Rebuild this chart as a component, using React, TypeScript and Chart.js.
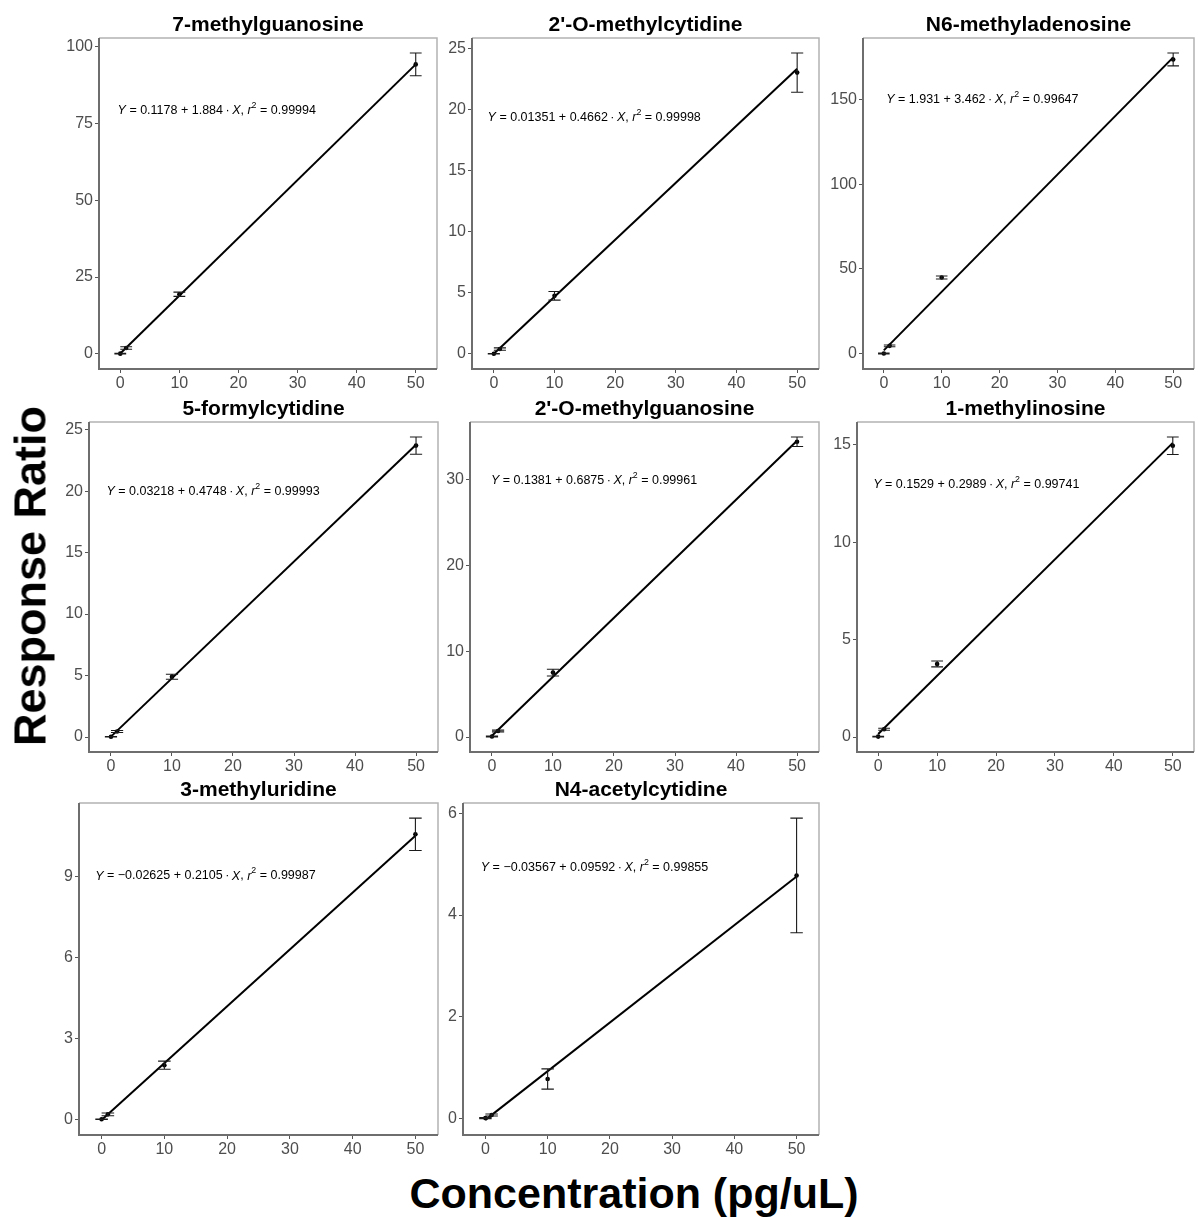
import React, { useEffect, useRef } from "react";
import { Chart, registerables } from "chart.js";

Chart.register(...registerables);

// ---------------- data ----------------
const compounds = [
  "7-methylguanosine",
  "2'-O-methylcytidine",
  "N6-methyladenosine",
  "5-formylcytidine",
  "2'-O-methylguanosine",
  "1-methylinosine",
  "3-methyluridine",
  "N4-acetylcytidine",
];

const concentrations = [0, 1, 10, 50];
const xTicks = [0, 10, 20, 30, 40, 50];

const mean_m7G = [0.05, 1.9, 19.4, 94.3];
const sd_m7G = [0.1, 0.4, 0.7, 3.7];
const mean_Cm = [0.02, 0.4, 4.75, 23.0];
const sd_Cm = [0.02, 0.1, 0.35, 1.6];
const mean_m6A = [0.1, 4.6, 45.0, 173.8];
const sd_m6A = [0.3, 0.5, 0.9, 3.8];
const mean_f5C = [0.02, 0.45, 4.9, 23.7];
const sd_f5C = [0.02, 0.08, 0.2, 0.7];
const mean_Gm = [0.05, 0.7, 7.5, 34.4];
const sd_Gm = [0.05, 0.1, 0.4, 0.55];
const mean_m1I = [0.02, 0.4, 3.75, 14.95];
const sd_m1I = [0.02, 0.05, 0.15, 0.45];
const mean_m3U = [0.0, 0.18, 2.0, 10.55];
const sd_m3U = [0.01, 0.05, 0.15, 0.6];
const mean_ac4C = [0.0, 0.06, 0.77, 4.78];
const sd_ac4C = [0.01, 0.02, 0.2, 1.13];

const intercepts = [0.1178, 0.01351, 1.931, 0.03218, 0.1381, 0.1529, -0.02625, -0.03567];
const slopes = [1.884, 0.4662, 3.462, 0.4748, 0.6875, 0.2989, 0.2105, 0.09592];
const r2Values = ["0.99994", "0.99998", "0.99647", "0.99993", "0.99961", "0.99741", "0.99987", "0.99855"];

const yTicks_m7G = [0, 25, 50, 75, 100];
const yTicks_Cm = [0, 5, 10, 15, 20, 25];
const yTicks_m6A = [0, 50, 100, 150];
const yTicks_f5C = [0, 5, 10, 15, 20, 25];
const yTicks_Gm = [0, 10, 20, 30];
const yTicks_m1I = [0, 5, 10, 15];
const yTicks_m3U = [0, 3, 6, 9];
const yTicks_ac4C = [0, 2, 4, 6];

const means = [mean_m7G, mean_Cm, mean_m6A, mean_f5C, mean_Gm, mean_m1I, mean_m3U, mean_ac4C];
const sds = [sd_m7G, sd_Cm, sd_m6A, sd_f5C, sd_Gm, sd_m1I, sd_m3U, sd_ac4C];
const yTicks = [yTicks_m7G, yTicks_Cm, yTicks_m6A, yTicks_f5C, yTicks_Gm, yTicks_m1I, yTicks_m3U, yTicks_ac4C];

// ---------------- layout (pixels) ----------------
const panels = [
  { left: 99, top: 38, right: 439, bottom: 369, eqX: 0.055, eqY: 0.218 },
  { left: 472, top: 38, right: 821, bottom: 369, eqX: 0.045, eqY: 0.239 },
  { left: 863, top: 38, right: 1196, bottom: 369, eqX: 0.07, eqY: 0.187 },
  { left: 89, top: 422, right: 440, bottom: 752, eqX: 0.05, eqY: 0.212 },
  { left: 470, top: 422, right: 821, bottom: 752, eqX: 0.06, eqY: 0.176 },
  { left: 857, top: 422, right: 1196, bottom: 752, eqX: 0.048, eqY: 0.19 },
  { left: 79, top: 803, right: 440, bottom: 1135, eqX: 0.045, eqY: 0.22 },
  { left: 463, top: 803, right: 821, bottom: 1135, eqX: 0.05, eqY: 0.193 },
];

const FONT = "'Liberation Sans', Arial, sans-serif";
const Y_AXIS_W = 70;
const X_AXIS_H = 30;
const TOP_PAD = 40;
const CAP_HALF = 1; // error bar half width in x units

function fmt(v: number) {
  return String(Math.abs(v));
}

function Panel({ idx }: { idx: number }) {
  const ref = useRef<HTMLCanvasElement | null>(null);
  const p = panels[idx];
  const w = p.right - p.left + Y_AXIS_W + 2;
  const h = p.bottom - p.top + TOP_PAD + X_AXIS_H;

  useEffect(() => {
    const canvas = ref.current;
    if (!canvas) return;
    const m = means[idx];
    const s = sds[idx];
    const a = intercepts[idx];
    const b = slopes[idx];
    const lineStart = a + b * concentrations[0];
    const lineEnd = a + b * concentrations[concentrations.length - 1];
    const lows = m.map((v, i) => v - s[i]).concat([lineStart, lineEnd]);
    const highs = m.map((v, i) => v + s[i]).concat([lineStart, lineEnd]);
    const lo = Math.min(...lows);
    const hi = Math.max(...highs);
    const yr = hi - lo;
    const xlo = concentrations[0] - CAP_HALF;
    const xhi = concentrations[concentrations.length - 1] + CAP_HALF;
    const xr = xhi - xlo;

    const plugin = {
      id: "decor" + idx,
      afterDatasetsDraw(chart: any) {
        const ctx = chart.ctx;
        const xs = chart.scales.x;
        const ys = chart.scales.y;
        const ca = chart.chartArea;
        ctx.save();
        // error bars
        ctx.strokeStyle = "#1a1a1a";
        ctx.lineWidth = 1.1;
        concentrations.forEach((c, i) => {
          const x = xs.getPixelForValue(c);
          const x0 = xs.getPixelForValue(c - CAP_HALF);
          const x1 = xs.getPixelForValue(c + CAP_HALF);
          const yt = ys.getPixelForValue(m[i] + s[i]);
          const yb = ys.getPixelForValue(m[i] - s[i]);
          ctx.beginPath();
          ctx.moveTo(x, yt);
          ctx.lineTo(x, yb);
          ctx.moveTo(x0, yt);
          ctx.lineTo(x1, yt);
          ctx.moveTo(x0, yb);
          ctx.lineTo(x1, yb);
          ctx.stroke();
        });
        // panel border
        ctx.strokeStyle = "#b3b3b3";
        ctx.lineWidth = 1.5;
        ctx.beginPath();
        ctx.moveTo(ca.left, ca.top);
        ctx.lineTo(ca.right, ca.top);
        ctx.lineTo(ca.right, ca.bottom);
        ctx.stroke();
        ctx.strokeStyle = "#6e6e6e";
        ctx.lineWidth = 2;
        ctx.beginPath();
        ctx.moveTo(ca.left, ca.top);
        ctx.lineTo(ca.left, ca.bottom);
        ctx.lineTo(ca.right, ca.bottom);
        ctx.stroke();
        // title
        ctx.fillStyle = "#000";
        ctx.font = "bold 21px " + FONT;
        ctx.textAlign = "center";
        ctx.textBaseline = "alphabetic";
        ctx.fillText(compounds[idx], (ca.left + ca.right) / 2, ca.top - 7);
        // equation
        const fs = 12.5;
        const ex = ca.left + p.eqX * (ca.right - ca.left);
        const ey = ca.top + p.eqY * (ca.bottom - ca.top);
        const sign = a < 0 ? "\u2212" : "";
        const parts: [string, string][] = [
          ["Y", "italic"],
          [" = " + sign + fmt(a) + " + " + fmt(b) + "\u2009\u00b7\u2009", "normal"],
          ["X", "italic"],
          [", ", "normal"],
          ["r", "italic"],
          ["2", "sup"],
          [" = " + r2Values[idx], "normal"],
        ];
        ctx.textAlign = "left";
        ctx.textBaseline = "middle";
        let cx = ex;
        parts.forEach(([t, st]) => {
          if (st === "sup") {
            ctx.font = (fs * 0.7).toFixed(1) + "px " + FONT;
            ctx.fillText(t, cx, ey - 5);
          } else {
            ctx.font = (st === "italic" ? "italic " : "") + fs + "px " + FONT;
            ctx.fillText(t, cx, ey);
          }
          cx += ctx.measureText(t).width;
        });
        ctx.restore();
      },
    };

    const tickFont = { family: FONT, size: 16 };
    const chart = new Chart(canvas, {
      type: "scatter",
      data: {
        datasets: [
          {
            data: [
              { x: concentrations[0], y: lineStart },
              { x: concentrations[concentrations.length - 1], y: lineEnd },
            ],
            showLine: true,
            borderColor: "#000",
            borderWidth: 2,
            pointRadius: 0,
          },
          {
            data: concentrations.map((c, i) => ({ x: c, y: m[i] })),
            pointRadius: 2.3,
            backgroundColor: "#000",
            borderColor: "#000",
            borderWidth: 0,
          },
        ],
      },
      options: {
        responsive: false,
        animation: false,
        events: [],
        layout: { padding: { left: 0, top: TOP_PAD, right: 2, bottom: 0 } },
        plugins: { legend: { display: false }, tooltip: { enabled: false }, title: { display: false } },
        scales: {
          x: {
            type: "linear",
            min: xlo - 0.05 * xr,
            max: xhi + 0.05 * xr,
            afterBuildTicks: (sc: any) => {
              sc.ticks = xTicks.map((v) => ({ value: v }));
            },
            afterFit: (sc: any) => {
              sc.height = X_AXIS_H;
            },
            grid: { display: true, drawOnChartArea: false, drawTicks: true, tickLength: 4, color: "#555", lineWidth: 1 },
            border: { display: false },
            ticks: { font: tickFont, color: "#4d4d4d", padding: 1, maxRotation: 0, autoSkip: false },
          },
          y: {
            type: "linear",
            min: lo - 0.05 * yr,
            max: hi + 0.05 * yr,
            afterBuildTicks: (sc: any) => {
              sc.ticks = yTicks[idx].map((v) => ({ value: v }));
            },
            afterFit: (sc: any) => {
              sc.width = Y_AXIS_W;
            },
            grid: { display: true, drawOnChartArea: false, drawTicks: true, tickLength: 4, color: "#555", lineWidth: 1 },
            border: { display: false },
            ticks: { font: tickFont, color: "#4d4d4d", padding: 2, autoSkip: false },
          },
        },
      },
      plugins: [plugin],
    } as any);
    return () => chart.destroy();
  }, [idx]);

  return (
    <canvas
      ref={ref}
      width={w}
      height={h}
      style={{
        position: "absolute",
        left: p.left - Y_AXIS_W,
        top: p.top - TOP_PAD,
        width: w,
        height: h,
      }}
    />
  );
}

export default function App() {
  return (
    <div
      style={{
        position: "absolute",
        left: 0,
        top: 0,
        width: 1198,
        height: 1217,
        background: "#fff",
        overflow: "hidden",
        fontFamily: FONT,
      }}
    >
      {compounds.map((_, i) => (
        <Panel key={i} idx={i} />
      ))}
      <div
        style={{
          position: "absolute",
          left: 30,
          top: 576,
          transform: "translate(-50%, -50%) rotate(-90deg)",
          whiteSpace: "nowrap",
          fontWeight: "bold",
          fontSize: 45,
          lineHeight: "1",
          color: "#000",
        }}
      >
        Response Ratio
      </div>
      <div
        style={{
          position: "absolute",
          left: 634,
          top: 1193,
          transform: "translate(-50%, -50%)",
          whiteSpace: "nowrap",
          fontWeight: "bold",
          fontSize: 43,
          lineHeight: "1",
          color: "#000",
        }}
      >
        Concentration (pg/uL)
      </div>
    </div>
  );
}
